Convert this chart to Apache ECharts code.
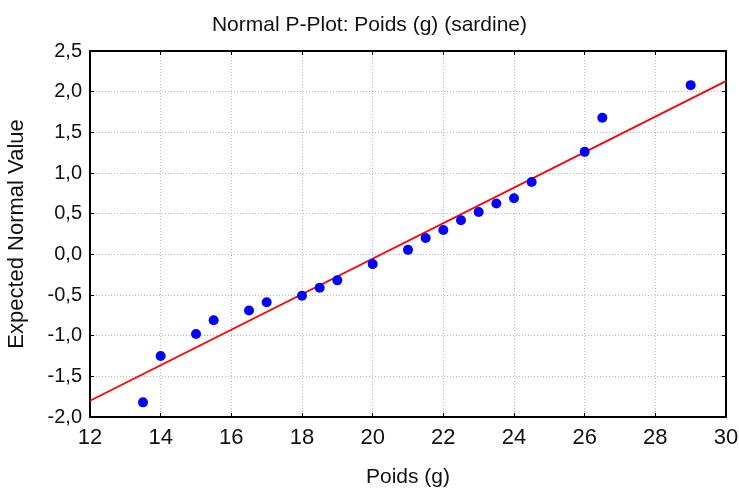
<!DOCTYPE html>
<html><head><meta charset="utf-8">
<script src="https://cdn.jsdelivr.net/npm/echarts@6/dist/echarts.min.js"></script>
<style>html,body{margin:0;padding:0;background:#fff}#c{width:739px;height:489px}</style>
</head><body><div id="c"></div>
<script>
const titleText = 'Normal P-Plot: Poids (g) (sardine)';
const xName = 'Poids (g)';
const yName = 'Expected Normal Value';
const poids = [13.5,14.0,15.0,15.5,16.5,17.0,18.0,18.5,19.0,20.0,21.0,21.5,22.0,22.5,23.0,23.5,24.0,24.5,26.0,26.5,29.0];
const expected = [-1.82,-1.25,-0.98,-0.81,-0.69,-0.59,-0.51,-0.41,-0.32,-0.12,0.055,0.20,0.30,0.42,0.52,0.625,0.69,0.89,1.26,1.68,2.08];
const fitX = [12,30];
const fitY = [-1.80,2.13];

const font = 'Liberation Sans, Arial, sans-serif';
const chart = echarts.init(document.getElementById('c'), null, {renderer:'canvas'});
const fmtY = v => v.toFixed(1).replace('.', ',');
const gridLine = {show:true, lineStyle:{color:'#b8b8b8', type:[1,2], width:1}};
chart.setOption({
  animation:false,
  title:{text:titleText, left:'center', top:9, textStyle:{fontFamily:font, fontSize:21, fontWeight:'normal', color:'#111', lineHeight:22}},
  grid:{left:90, right:13, top:51, bottom:72, outerBoundsMode:'none', containLabel:false},
  xAxis:[{
    type:'value', min:12, max:30, interval:2, position:'bottom',
    name:xName, nameLocation:'middle', nameGap:50,
    nameTextStyle:{fontFamily:font, fontSize:21, color:'#111'},
    axisLine:{show:true, onZero:false, lineStyle:{color:'#000', width:2}},
    axisTick:{show:true, inside:true, length:4, lineStyle:{color:'#000'}},
    axisLabel:{fontFamily:font, fontSize:22, color:'#111', margin:10},
    splitLine:gridLine
  },{
    type:'value', min:12, max:30, interval:2, position:'top',
    axisLine:{show:true, onZero:false, lineStyle:{color:'#000', width:2}},
    axisTick:{show:true, inside:true, length:4, lineStyle:{color:'#000'}},
    axisLabel:{show:false}, splitLine:{show:false}
  }],
  yAxis:[{
    type:'value', min:-2, max:2.5, interval:0.5, position:'left',
    name:yName, nameLocation:'middle', nameGap:62, nameRotate:90,
    nameTextStyle:{fontFamily:font, fontSize:22, color:'#111'},
    axisLine:{show:true, onZero:false, lineStyle:{color:'#000', width:2}},
    axisTick:{show:true, inside:true, length:4, lineStyle:{color:'#000'}},
    axisLabel:{fontFamily:font, fontSize:20, color:'#111', margin:8, formatter:fmtY},
    splitLine:gridLine
  },{
    type:'value', min:-2, max:2.5, interval:0.5, position:'right',
    axisLine:{show:true, onZero:false, lineStyle:{color:'#000', width:2}},
    axisTick:{show:true, inside:true, length:4, lineStyle:{color:'#000'}},
    axisLabel:{show:false}, splitLine:{show:false}
  }],
  series:[{
    type:'line', data:fitX.map((x,i)=>[x,fitY[i]]), showSymbol:false, symbol:'none',
    lineStyle:{color:'#ff0000', width:1.8}, z:2
  },{
    type:'scatter', data:poids.map((x,i)=>[x,expected[i]]), symbol:'circle', symbolSize:10,
    itemStyle:{color:'#0000ff', opacity:1}, z:3
  }]
});
</script></body></html>
